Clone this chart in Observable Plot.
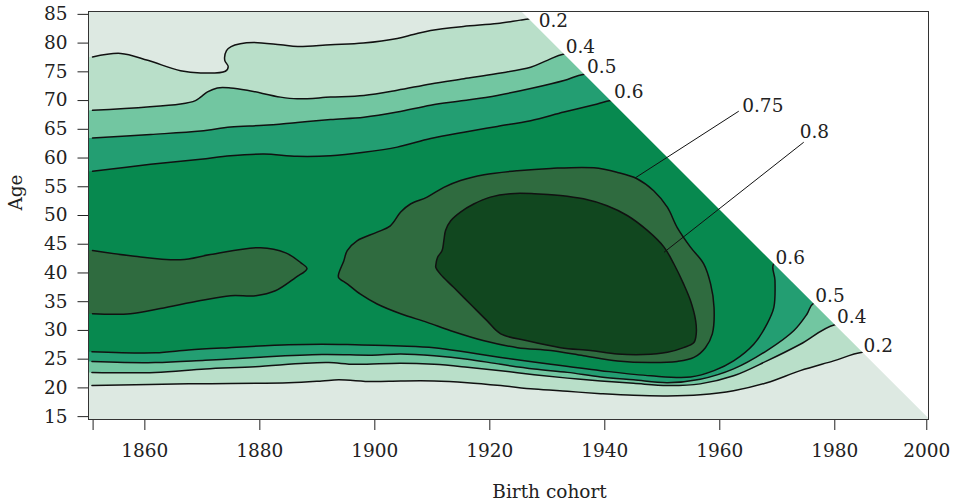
<!DOCTYPE html>
<html><head><meta charset="utf-8">
<script src="https://cdn.jsdelivr.net/npm/d3@7"></script>
<script src="https://cdn.jsdelivr.net/npm/@observablehq/plot@0.6"></script>
<style>body{margin:0;background:#fff;} svg{display:block}</style>
</head><body><div id="chart"></div>
<script>
// ---- data ----
const levels = [0.2, 0.4, 0.5, 0.6, 0.75, 0.8];
const bandColors = ["#dde9e2", "#b9dfc9", "#72c6a1", "#239e72", "#07894f", "#2f6b3f", "#11471f"];
const lastPeriod = 2011; // observations end at cohort + age = 2011
const xDomain = [1850.2, 1996.3];
const yDomain = [14.5, 85.5];
const xTicks = [1851, 1860, 1880, 1900, 1920, 1940, 1960, 1980, 1996];
const xTickLabels = ["", "1860", "1880", "1900", "1920", "1940", "1960", "1980", "2000"];
const yTicks = [15, 20, 25, 30, 35, 40, 45, 50, 55, 60, 65, 70, 75, 80, 85];
const xTitle = "Birth cohort";
const yTitle = "Age";

// contour lines, [birth cohort, age]
const c02upper = [[1850.9,77.6],[1855.8,78.2],[1860.5,77.0],[1866.2,75.2],[1869.7,74.8],[1874.0,75.1],[1874.5,75.9],[1873.9,77.0],[1874.2,78.7],[1875.0,79.4],[1876.6,79.9],[1878.9,80.1],[1883.6,79.7],[1886.6,79.4],[1892.3,79.7],[1898.0,80.0],[1903.9,80.8],[1906.7,81.5],[1909.7,82.2],[1915.4,82.9],[1921.3,83.4],[1925.3,84.0],[1926.8,84.2]];
const c04upper = [[1850.9,68.3],[1866.2,69.4],[1868.8,70.0],[1869.7,70.6],[1870.9,71.5],[1872.6,72.2],[1874.9,72.2],[1877.8,71.8],[1883.6,70.6],[1886.5,70.3],[1892.3,70.6],[1898.1,70.9],[1903.9,71.8],[1909.7,72.9],[1915.5,73.8],[1921.3,74.7],[1927.1,75.8],[1930.0,77.0],[1932.9,78.1]];
const c05upper = [[1850.9,63.5],[1861.0,64.1],[1869.7,64.7],[1874.9,65.4],[1880.7,65.7],[1886.5,66.2],[1892.3,66.7],[1898.1,67.1],[1903.9,68.0],[1909.7,69.2],[1915.5,70.0],[1921.3,70.9],[1927.1,72.1],[1932.9,73.5],[1936.4,74.6]];
const c06upper = [[1850.9,57.7],[1861.0,58.9],[1869.7,59.8],[1874.9,60.4],[1880.7,60.7],[1886.5,60.3],[1892.3,60.4],[1898.1,61.0],[1903.9,61.9],[1909.7,63.4],[1915.5,64.5],[1921.3,65.5],[1927.1,66.5],[1932.9,68.0],[1938.7,69.4],[1941.0,70.0]];
const c06lower = [[1850.8,26.3],[1861.8,26.1],[1867.6,26.6],[1874.6,27.0],[1885.0,27.5],[1890.8,27.6],[1896.6,27.5],[1904.5,27.3],[1910.3,27.0],[1916.1,26.2],[1921.9,25.3],[1930.6,24.1],[1939.3,23.0],[1948.0,22.1],[1954.9,21.9],[1959.0,23.0],[1962.4,24.7],[1965.9,27.6],[1968.2,31.1],[1969.4,34.0],[1969.6,38.7],[1969.4,41.6]];
const c05lower = [[1850.8,24.6],[1861.8,24.4],[1870.5,24.8],[1879.2,25.3],[1890.8,25.8],[1899.5,25.7],[1904.5,25.9],[1910.3,25.6],[1916.1,25.0],[1921.9,24.1],[1927.7,23.3],[1933.5,22.7],[1939.3,21.9],[1945.0,21.4],[1950.9,20.9],[1956.6,21.5],[1962.4,23.3],[1968.2,26.5],[1972.9,30.0],[1975.2,32.9],[1976.3,34.7]];
const c04lower = [[1850.8,22.7],[1861.8,22.7],[1870.5,23.3],[1879.2,23.7],[1887.9,24.3],[1892.0,24.4],[1896.6,24.1],[1904.5,24.3],[1910.3,24.1],[1916.1,23.6],[1921.9,23.0],[1927.7,22.3],[1933.5,21.7],[1939.3,21.2],[1945.0,20.8],[1950.9,20.4],[1956.6,20.7],[1962.4,22.1],[1968.2,24.7],[1974.0,27.6],[1980.0,31.0]];
const c02lower = [[1850.8,20.4],[1867.6,20.7],[1885.0,20.9],[1890.8,21.2],[1893.7,21.4],[1899.5,21.1],[1904.5,21.2],[1910.3,21.2],[1916.1,20.9],[1921.9,20.4],[1927.7,19.8],[1933.5,19.4],[1939.3,19.0],[1945.0,18.7],[1950.9,18.6],[1956.6,18.8],[1962.4,19.5],[1968.2,20.9],[1974.0,23.0],[1979.8,24.7],[1984.8,26.2]];
const c075left = [[1850.9,43.9],[1857.5,43.0],[1866.2,42.3],[1871.4,43.2],[1880.1,44.4],[1884.5,43.5],[1887.1,41.8],[1888.2,40.75],[1886.2,39.2],[1882.7,36.9],[1879.3,36.05],[1874.9,36.05],[1869.7,35.2],[1862.7,33.8],[1857.5,32.9],[1850.9,32.9]];
const c075blob = [[1893.7,39.8],[1894.6,42.1],[1895.2,43.9],[1896.9,45.6],[1900.4,47.1],[1902.7,48.2],[1904.5,50.6],[1906.2,52.0],[1909.1,53.2],[1912.0,54.9],[1914.9,56.1],[1919.0,57.1],[1924.8,57.8],[1930.6,58.2],[1938.1,58.3],[1942.2,57.5],[1945.6,56.4],[1948.5,54.3],[1950.9,51.4],[1952.6,47.9],[1954.9,44.5],[1957.2,41.6],[1958.4,38.1],[1959.0,34.0],[1958.7,29.4],[1957.5,27.0],[1955.5,25.3],[1952.6,24.6],[1947.9,24.4],[1942.2,24.7],[1936.3,25.6],[1930.6,26.5],[1924.8,27.0],[1919.0,28.2],[1913.2,29.95],[1909.1,31.4],[1904.5,32.9],[1900.4,34.6],[1897.5,36.3],[1895.2,38.1],[1893.7,39.2]];
const c08blob = [[1910.6,41.3],[1910.9,42.7],[1911.7,43.9],[1912.0,45.6],[1912.3,47.4],[1913.2,49.1],[1914.9,50.6],[1917.2,52.0],[1920.1,53.2],[1923.6,53.8],[1927.7,53.8],[1932.3,53.5],[1936.3,52.9],[1940.4,51.7],[1943.9,50.0],[1947.4,47.4],[1950.3,44.5],[1952.0,41.6],[1953.7,38.1],[1954.9,35.2],[1955.8,31.7],[1955.9,29.4],[1955.5,27.9],[1953.7,27.0],[1950.9,26.2],[1946.8,25.8],[1942.2,25.9],[1937.5,26.5],[1932.3,27.0],[1926.5,28.2],[1921.9,29.4],[1919.5,31.7],[1916.6,34.6],[1913.7,37.5],[1911.4,39.8],[1910.6,41.0]];

// contour labels
const labelTexts = ["0.2", "0.4", "0.5", "0.6", "0.75", "0.8", "0.6", "0.5", "0.4", "0.2"];
const labelCohorts = [1928.5, 1933.2, 1936.9, 1941.6, 1963.9, 1973.9, 1969.7, 1976.6, 1980.4, 1985.0];
const labelAges = [83.8, 79.3, 75.8, 71.5, 69.1, 64.6, 42.6, 35.9, 32.3, 27.3];
// leader lines for the inner labels
const leaderFrom = [[1945.3, 56.55], [1950.3, 43.6]];
const leaderTo = [[1963.3, 68.15], [1974.6, 62.75]];

// ---- helpers ----
const ext = ([c, a]) => [lastPeriod - a + 8, a];          // push end beyond the observed triangle
const edge = ([c, a]) => [xDomain[0] - 3, a];             // push start beyond the left frame
const last = arr => arr[arr.length - 1];
function band(lower, upper) {
  return [edge(lower[0]), ...lower, ext(last(lower)), ext(last(upper)), ...[...upper].reverse(), edge(upper[0])];
}
const fillMark = (pts, fill, curve = "catmull-rom") => Plot.line(pts, {x: d => d[0], y: d => d[1], fill, stroke: "none", curve, clip: true});
const lineMark = (pts, curve = "catmull-rom") => Plot.line(pts, {x: d => d[0], y: d => d[1], stroke: "#111", strokeWidth: 1.5, curve, clip: true});

const maskPts = [[lastPeriod - 100, 100], [2020, 100], [2020, lastPeriod - 2020]];
const labels = labelTexts.map((t, i) => ({t, x: labelCohorts[i], y: labelAges[i]}));
const leaders = leaderFrom.map((f, i) => ({x1: f[0], y1: f[1], x2: leaderTo[i][0], y2: leaderTo[i][1]}));
const xLabelMap = new Map(xTicks.map((t, i) => [t, xTickLabels[i]]));

const chart = Plot.plot({
  width: 959, height: 502,
  marginLeft: 88, marginRight: 31, marginTop: 11, marginBottom: 83,
  style: {fontFamily: "'DejaVu Serif', serif", fontSize: "18.5px", color: "#222", background: "white"},
  x: {domain: xDomain, ticks: xTicks, tickFormat: d => xLabelMap.get(d) ?? "", tickSize: 11, tickPadding: 13, label: null},
  y: {domain: yDomain, ticks: yTicks, tickSize: 10.5, tickPadding: 10.5, label: null},
  marks: [
    Plot.frame({fill: bandColors[0], stroke: "none"}),
    fillMark(band(c02lower, c02upper), bandColors[1]),
    fillMark(band(c04lower, c04upper), bandColors[2]),
    fillMark(band(c05lower, c05upper), bandColors[3]),
    fillMark(band(c06lower, c06upper), bandColors[4]),
    fillMark([edge(c075left[0]), ...c075left, edge(last(c075left))], bandColors[5]),
    fillMark(c075blob, bandColors[5], "catmull-rom-closed"),
    fillMark(c08blob, bandColors[6], "catmull-rom-closed"),
    lineMark([...c02upper, ext(last(c02upper))]),
    lineMark([...c04upper, ext(last(c04upper))]),
    lineMark([...c05upper, ext(last(c05upper))]),
    lineMark([...c06upper, ext(last(c06upper))]),
    lineMark([...c06lower, ext(last(c06lower))]),
    lineMark([...c05lower, ext(last(c05lower))]),
    lineMark([...c04lower, ext(last(c04lower))]),
    lineMark([...c02lower, ext(last(c02lower))]),
    lineMark(c075left),
    lineMark(c075blob, "catmull-rom-closed"),
    lineMark(c08blob, "catmull-rom-closed"),
    Plot.line(maskPts, {x: d => d[0], y: d => d[1], fill: "white", stroke: "none", clip: true}),
    Plot.link(leaders, {x1: "x1", y1: "y1", x2: "x2", y2: "y2", stroke: "#111", strokeWidth: 1}),
    Plot.text(labels, {x: "x", y: "y", text: "t", textAnchor: "start", fill: "#222"}),
    Plot.frame({stroke: "#333", strokeWidth: 1}),
    Plot.text([xTitle], {frameAnchor: "bottom", text: d => d, textAnchor: "middle", lineAnchor: "middle", dx: 41, dy: 73, fill: "#222"}),
    Plot.text([yTitle], {frameAnchor: "left", text: d => d, rotate: -90, textAnchor: "middle", lineAnchor: "middle", dx: -72, dy: -23, fill: "#222"})
  ]
});
document.getElementById("chart").appendChild(chart);
</script>
</body></html>
